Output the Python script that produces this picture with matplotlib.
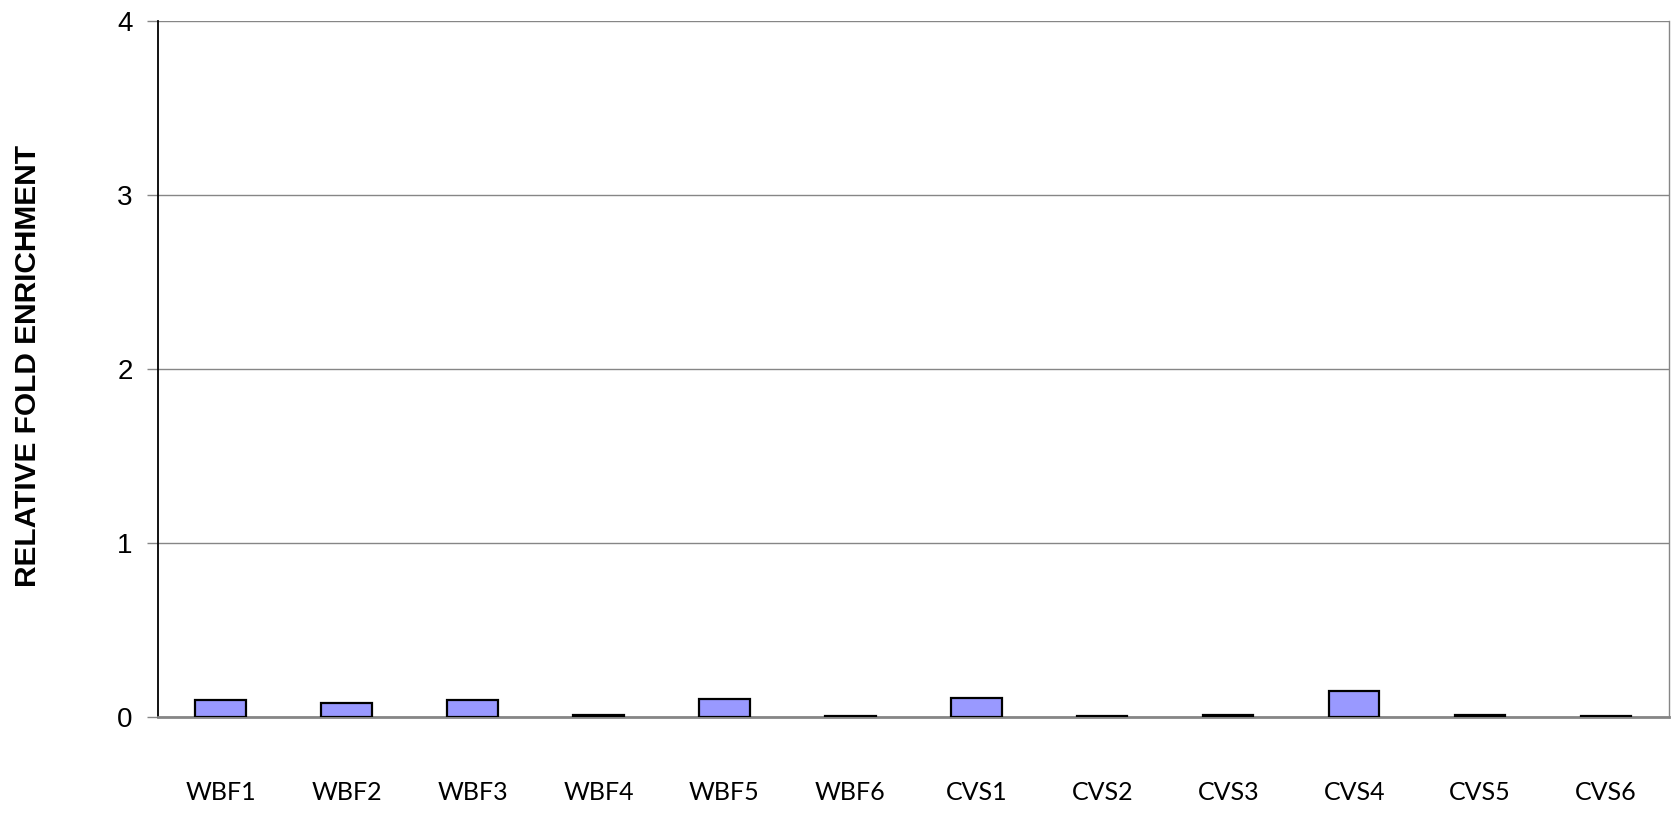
import matplotlib
matplotlib.use("Agg")
import matplotlib.pyplot as plt

categories = ["WBF1", "WBF2", "WBF3", "WBF4", "WBF5", "WBF6",
              "CVS1", "CVS2", "CVS3", "CVS4", "CVS5", "CVS6"]
values = [0.100, 0.082, 0.100, 0.010, 0.103, 0.004,
          0.110, 0.008, 0.010, 0.152, 0.010, 0.007]
y_ticks = [0, 1, 2, 3, 4]
y_label = "RELATIVE FOLD ENRICHMENT"

fig = plt.figure(figsize=(16.81, 8.14), dpi=100)
ax = fig.add_axes([0.0938, 0.1192, 0.9929 - 0.0938, 0.9736 - 0.1192])

x = list(range(len(categories)))
ax.bar(x, values, width=0.4, color="#9999FF", edgecolor="black", linewidth=1.6, zorder=3)

ax.set_xlim(-0.5, len(categories) - 0.5)
ax.set_ylim(0, 4)
ax.set_yticks(y_ticks)
ax.set_yticklabels([str(t) for t in y_ticks], fontsize=20, family="Liberation Sans")
ax.set_xticks(x)
ax.set_xticklabels(categories, fontsize=18, family="Lato")
ax.tick_params(axis="x", length=0, pad=46)
ax.tick_params(axis="y", length=8, width=1, color="#868686", pad=10)

ax.yaxis.grid(True, color="#868686", linewidth=1.0, zorder=0)
ax.set_axisbelow(True)

ax.spines["left"].set_color("black")
ax.spines["left"].set_linewidth(1.3)
ax.spines["bottom"].set_color("#868686")
ax.spines["bottom"].set_linewidth(2.0)
ax.spines["right"].set_color("#868686")
ax.spines["right"].set_linewidth(1.0)
ax.spines["top"].set_visible(False)

fig.text(0.0165, 0.5508, y_label, rotation=90, fontsize=21.5, fontweight="bold",
         family="Liberation Sans", ha="center", va="center")

fig.savefig("out.png", dpi=100)
